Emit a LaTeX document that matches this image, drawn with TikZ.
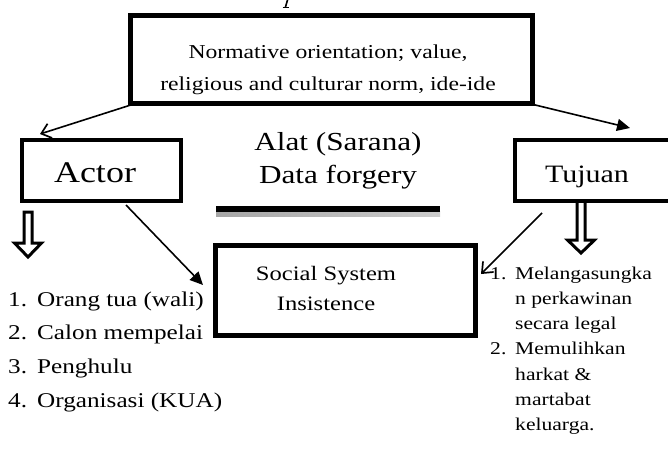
\documentclass[tikz,border=0pt]{standalone}
\usepackage{fontspec}
\setmainfont[FakeStretch=1.2]{Liberation Serif}
\usetikzlibrary{arrows.meta,calc}
\newcommand{\fs}[2]{\fontsize{#1}{#2}\selectfont}
\begin{document}
\begin{tikzpicture}[x=1pt,y=-1pt,
  thickbox/.style={draw,line width=#1,rectangle,inner sep=0pt},
  txt/.style={inner sep=0pt,anchor=base},
  conn/.style={line width=1.6pt},
  barb/.style={-{Straight Barb[length=9pt,width=15pt,line width=1.7pt]}},
  tri/.style={-{Triangle[length=13pt,width=12pt]}},
  hollow/.style={draw,line width=3pt,fill=white,line join=miter}
]
\clip (0,0) rectangle (668,448);
\fill[white] (0,0) rectangle (668,448);

% cut-off fragment of a letter from above
\coordinate (pf1) at (287.5,0);
\coordinate (pf2) at (285.5,7);
\draw[line width=1.6pt] (pf1) -- (pf2);
\draw[line width=1pt] ($(pf2)+(-3,0)$) -- ($(pf2)+(3,0)$);

% boxes
\node[thickbox=5pt,minimum width=402pt,minimum height=88pt] (norm) at (331.5,59.5) {};
\node[txt,align=center,font={\fs{19.7}{32}}] (normtext) at (328,90) {Normative orientation; value,\\religious and culturar norm, ide-ide};

\node[thickbox=4.5pt,minimum width=159pt,minimum height=61pt] (actor) at (101.5,170.5) {};
\node[txt,font={\fs{30}{34}}] (actortext) at (95,182) {Actor};

\node[thickbox=4.5pt,minimum width=200pt,minimum height=61pt] (tujuan) at (615,170.5) {};
\node[txt,font={\fs{25}{30}}] (tujuantext) at (587,182) {Tujuan};

\node[thickbox=5.5pt,minimum width=260pt,minimum height=90pt] (social) at (345.5,290.5) {};
\node[txt,align=center,font={\fs{20.5}{30}}] (socialtext) at (326,310) {Social System\\Insistence};

% middle text
\node[txt,align=center,font={\fs{26}{33}}] (alat) at (338,183) {Alat (Sarana)\\Data forgery};

% bar
\coordinate (barL) at (216,209);
\coordinate (barR) at (440,209);
\shade[left color=gray!70,right color=gray!40] ($(barL)+(0,2)$) rectangle ($(barR)+(0,7)$);
\fill[black] ($(barL)+(0,-3)$) rectangle ($(barR)+(0,3)$);

% connectors
\coordinate (n1) at (137,103);
\coordinate (a1) at (40,134);
\draw[conn,barb] (n1) -- (a1);
\coordinate (n2) at (527,103);
\coordinate (t1) at (630,128);
\draw[conn,tri] (n2) -- (t1);
\coordinate (a2) at (126,205);
\coordinate (s1) at (203,285);
\draw[conn,tri] (a2) -- (s1);
\coordinate (t2) at (542,213);
\coordinate (s2) at (481,274);
\draw[conn,barb] (t2) -- (s2);

% hollow arrows
\path[hollow] (24,212) -- (24,243) -- (14.5,243) -- (28,257) -- (41.5,243) -- (32,243) -- (32,212) -- cycle;
\path[hollow] (577,203) -- (577,240) -- (567.5,240) -- (581,253) -- (594.5,240) -- (585,240) -- (585,203);

% left list
\node[txt,anchor=base west,align=left,font={\fs{21}{33.8}}] (leftlist) at (8,407.4) {%
\makebox[29pt][l]{1.}Orang tua (wali)\\
\makebox[29pt][l]{2.}Calon mempelai\\
\makebox[29pt][l]{3.}Penghulu\\
\makebox[29pt][l]{4.}Organisasi (KUA)};

% right list
\node[txt,anchor=base west,align=left,font={\fs{18}{25.3}}] (rightlist) at (490,430.8) {%
\makebox[25pt][l]{1.}Melangasungka\\
\hspace*{25pt}n perkawinan\\
\hspace*{25pt}secara legal\\
\makebox[25pt][l]{2.}Memulihkan\\
\hspace*{25pt}harkat \&\\
\hspace*{25pt}martabat\\
\hspace*{25pt}keluarga.};
\end{tikzpicture}
\end{document}
